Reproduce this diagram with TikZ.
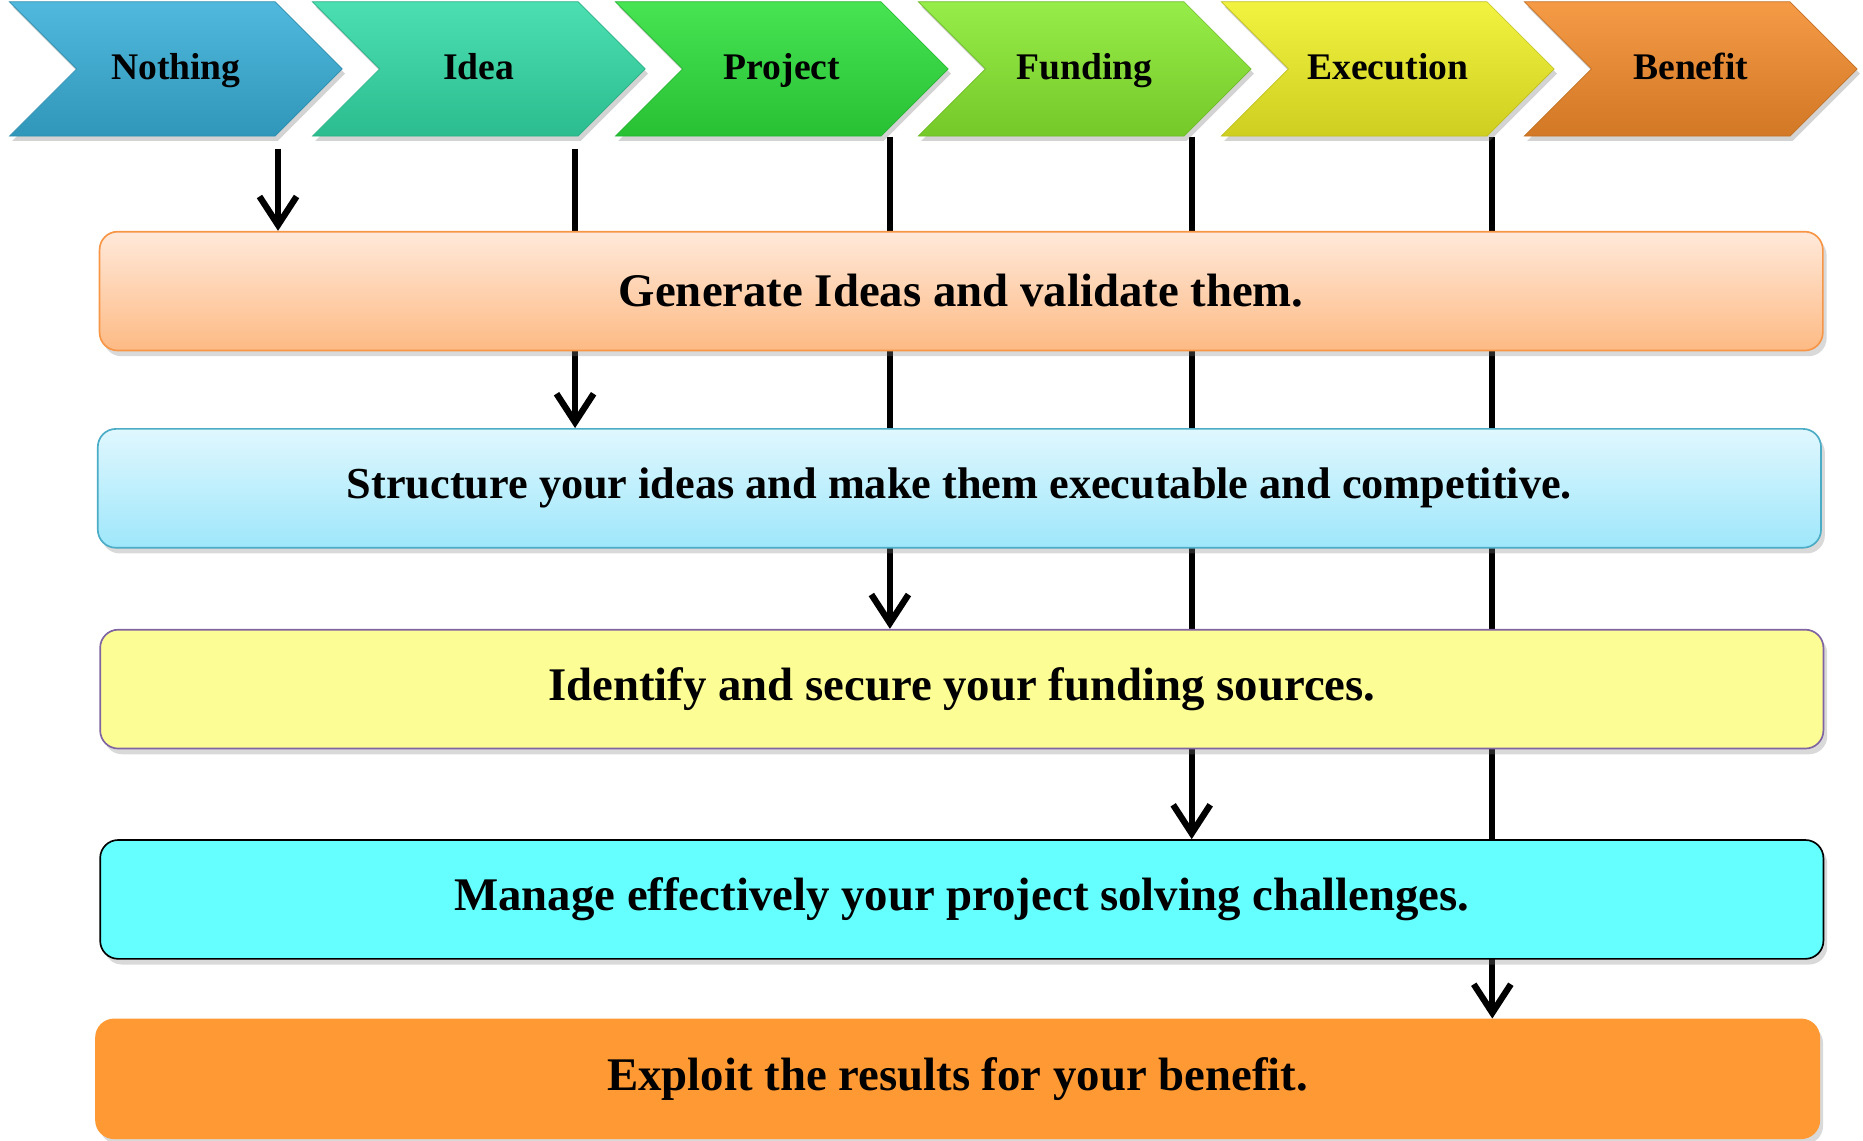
\documentclass[tikz,border=0pt]{standalone}
\usepackage{fontspec}
\setmainfont{Liberation Serif}
\usetikzlibrary{shapes.symbols,shadows,arrows.meta,backgrounds}

\definecolor{nothingc}{HTML}{38AFD8}
\definecolor{ideac}{HTML}{33DBA6}
\definecolor{projectc}{HTML}{2EE03C}
\definecolor{fundingc}{HTML}{88EA30}
\definecolor{executionc}{HTML}{F0F026}
\definecolor{benefitc}{HTML}{F48C2C}
\newcommand{\stagetext}[1]{\raisebox{-0.15cm}{#1}}

\begin{document}
\begin{tikzpicture}
      [x=0.025cm, y=-0.025cm,
        stage/.style={signal, signal from=west, signal to=east,
          minimum width=7cm, minimum height=2.825cm, inner sep=0pt,
          text height=0.68em, text depth=0.22em,
          draw=#1!80!black, top color=#1!88!white, bottom color=#1!86!black,
          font=\fontsize{22.5}{24}\selectfont\bfseries,
          drop shadow={shadow xshift=0.06cm, shadow yshift=-0.1cm, opacity=0.35}},
        box/.style={rounded corners=0.38cm, minimum width=36.25cm,
          minimum height=2.5cm, line width=1pt,
          font=\fontsize{28}{30}\selectfont\bfseries,
          drop shadow={shadow xshift=0.08cm, shadow yshift=-0.12cm, opacity=0.3}},
        link/.style={line width=3.8pt},
        tip/.style={link, -{Straight Barb[length=0.6cm, width=0.78cm]}}]
    \useasboundingbox (0,0) rectangle (1568,960);
    % the stages along the top
    \node[stage=nothingc]   (nothing)   at (148,58)  {\stagetext{Nothing}};
    \node[stage=ideac]      (idea)      at (403,58)  {\stagetext{Idea}};
    \node[stage=projectc]   (project)   at (658,58)  {\stagetext{Project}};
    \node[stage=fundingc]   (funding)   at (913,58)  {\stagetext{Funding}};
    \node[stage=executionc] (execution) at (1168,58) {\stagetext{Execution}};
    \node[stage=benefitc]   (benefit)   at (1423,58) {\stagetext{Benefit}};
    % the steps
    \node[box, draw={rgb,255:red,247;green,150;blue,70},
      top color={rgb,255:red,255;green,233;blue,218},
      bottom color={rgb,255:red,253;green,186;blue,132}]
      (generate) at (809,245) {Generate Ideas and validate them.};
    \node[box, draw={rgb,255:red,75;green,172;blue,198},
      top color={rgb,255:red,224;green,247;blue,254},
      bottom color={rgb,255:red,158;green,231;blue,251},
      font=\fontsize{26.5}{28}\selectfont\bfseries]
      (structure) at (807.5,411) {Structure your ideas and make them executable and competitive.};
    \node[box, draw={rgb,255:red,128;green,100;blue,162},
      fill={rgb,255:red,253;green,253;blue,150}]
      (identify) at (809.5,580) {Identify and secure your funding sources.};
    \node[box, draw=black, fill={rgb,255:red,102;green,255;blue,255}]
      (manage) at (809.5,757) {Manage effectively your project solving challenges.};
    \node[box, draw={rgb,255:red,255;green,153;blue,51},
      fill={rgb,255:red,255;green,153;blue,51}]
      (exploit) at (806,908) {Exploit the results for your benefit.};
    \coordinate (t1) at (234,125);
    \coordinate (t2) at (484,125);
    \coordinate (t3) at (749,115);
    \coordinate (t4) at (1003,115);
    \coordinate (t5) at (1256,115);
    \begin{scope}[on background layer]
      \draw[tip] (t1) -- (t1 |- generate.north);
      \draw[tip] (t2) -- (t2 |- structure.north);
      \draw[tip] (t3) -- (t3 |- identify.north);
      \draw[tip] (t4) -- (t4 |- manage.north);
      \draw[tip] (t5) -- (t5 |- exploit.north);
    \end{scope}
\end{tikzpicture}
\end{document}
